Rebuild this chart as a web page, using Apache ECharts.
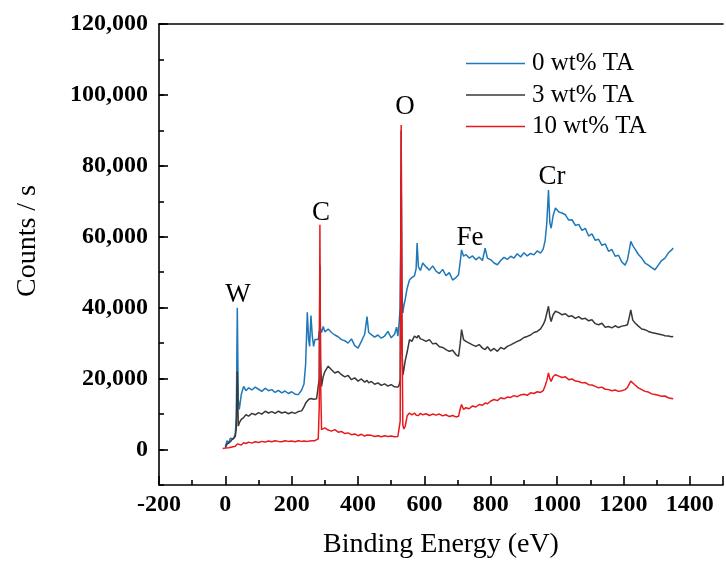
<!DOCTYPE html>
<html>
<head>
<meta charset="utf-8">
<script src="https://cdn.jsdelivr.net/npm/echarts@6/dist/echarts.min.js"></script>
<style>
html,body{margin:0;padding:0;background:#fff;}
#chart{width:726px;height:564px;}
</style>
</head>
<body>
<div id="chart"></div>
<script>
// Series names
const seriesNames = ['0 wt% TA', '3 wt% TA', '10 wt% TA'];
// Y tick labels (-10,000 .. 120,000 every 10,000; only every other one is labelled)
const yTickLabels = ['', '0', '', '20,000', '', '40,000', '', '60,000', '', '80,000', '', '100,000', '', '120,000'];
// Peak annotations
const peakLabels = ['W', 'C', 'O', 'Fe', 'Cr'];

// 0 wt% TA  [binding energy eV, counts/s]
const blue0 = [
[0,800],[5,2500],[10,1800],[15,3200],[20,3600],[25,3000],[30,4600],[33,9000],[36,40000],[39,14000],[42,11300],[48,15500],[55,17800],
[62,16600],[70,17400],[80,16800],[90,17600],[100,17000],[110,16400],[120,17300],[130,16600],[140,16900],[150,16100],[160,16700],
[170,16000],[180,16500],[190,15800],[200,16300],[210,15600],[220,15500],[230,16800],[237,18500],[242,24000],[247,38700],[251,31000],
[254,29100],[258,37800],[262,32000],[266,29100],[270,31000],[275,31500],[280,31000],[283,33500],[285,32000],[287,34000],[290,33000],
[295,34700],[300,33200],[310,34000],[320,33000],[330,32300],[340,31800],[350,31000],[360,30700],[370,30000],[380,31200],[390,29300],
[400,28600],[410,30500],[420,32500],[427,37500],[432,33000],[440,32400],[450,31700],[460,32300],[470,31400],[480,32000],[490,33300],
[500,31500],[510,32500],[516,34500],[520,32000],[524,36000],[527,40000],[530,77000],[532,45000],[535,38500],[538,40500],[542,42300],
[548,45500],[555,47800],[562,48500],[570,49000],[575,51000],[578,58200],[582,51500],[588,50500],[595,52600],[605,51500],[615,50600],
[625,51800],[635,50300],[645,49600],[655,50800],[665,49000],[675,49900],[685,47800],[695,48500],[703,49300],[708,53000],[712,56300],
[718,54500],[725,55000],[735,54000],[745,54600],[755,53500],[765,54300],[775,53300],[783,56800],[790,54000],[800,53500],[810,52600],
[820,52100],[830,53300],[840,54200],[850,53600],[860,54500],[870,54000],[880,55200],[890,54300],[900,55500],[910,54600],[920,55300],
[930,54900],[940,56000],[950,55400],[958,56500],[964,59000],[969,64000],[974,73200],[978,64000],[982,62400],[988,66000],[995,68100],
[1005,67000],[1015,66700],[1025,66200],[1035,64700],[1045,64800],[1055,63200],[1065,63500],[1075,61800],[1085,62400],[1095,60200],
[1105,60800],[1115,59000],[1125,59300],[1135,57600],[1145,58000],[1155,55900],[1165,56400],[1175,54500],[1185,54800],[1195,52900],
[1205,52000],[1212,53500],[1218,56500],[1222,58700],[1228,57500],[1235,56500],[1245,55000],[1255,54000],[1265,52600],[1275,52000],
[1285,51300],[1295,50700],[1305,52000],[1315,53300],[1325,54000],[1335,55400],[1345,56300],[1350,56800]
];

// 3 wt% TA
const black3 = [
[0,500],[5,1500],[10,1200],[15,2200],[20,2800],[25,2400],[30,3700],[33,6000],[36,22000],[39,6600],[42,7500],[48,8500],[55,9000],
[62,9800],[70,9400],[80,10200],[90,9800],[100,10400],[110,10000],[120,10800],[130,10300],[140,10700],[150,10200],[160,10800],
[170,10300],[180,10600],[190,10100],[200,10500],[210,10200],[220,10700],[230,10900],[237,12000],[242,13100],[247,12800],[251,14100],
[254,13600],[258,14400],[262,14000],[266,14200],[270,14600],[275,14300],[280,14800],[283,20000],[285,52000],[287,25000],[290,17800],
[295,20600],[300,22000],[310,23500],[320,22500],[330,21600],[340,22000],[350,21100],[360,20500],[370,20900],[380,19700],[390,20200],
[400,19300],[410,19900],[420,19000],[427,19500],[432,18800],[440,19200],[450,18400],[460,18800],[470,18100],[480,18500],[490,17900],
[500,18300],[510,17700],[516,18000],[520,17600],[524,18200],[527,19700],[530,90000],[532,30000],[535,21000],[538,22500],[542,25000],
[548,27500],[555,31000],[562,30500],[570,32000],[575,32400],[578,31500],[582,32200],[588,31200],[595,31000],[605,30500],[615,31000],
[625,29800],[635,30000],[645,29000],[655,28800],[665,28200],[675,27700],[685,28000],[695,26800],[703,26300],[708,30000],[712,33800],
[718,31000],[725,30500],[735,30000],[745,29500],[755,29100],[765,29600],[775,28600],[783,28200],[790,29000],[800,27800],[810,28500],
[820,27700],[830,28800],[840,28300],[850,29100],[860,29500],[870,30000],[880,30500],[890,30900],[900,31600],[910,31900],[920,32300],
[930,33000],[940,33300],[950,34000],[958,35200],[964,36500],[969,38500],[974,40400],[978,37500],[982,36100],[988,38000],[995,39000],
[1005,38600],[1015,38000],[1025,38300],[1035,37500],[1045,37700],[1055,37000],[1065,37500],[1075,36800],[1085,37000],[1095,36300],
[1105,36600],[1115,35500],[1125,35200],[1135,35600],[1145,34500],[1155,34700],[1165,34300],[1175,34900],[1185,34400],[1195,34800],
[1205,35000],[1212,35200],[1218,37500],[1222,39400],[1228,36500],[1235,35700],[1245,34800],[1255,34000],[1265,33800],[1275,33300],
[1285,33000],[1295,32800],[1305,32600],[1315,32400],[1325,32100],[1335,32000],[1345,31800],[1350,31900]
];

// 10 wt% TA
const red10 = [
[-8,300],[0,400],[5,600],[10,500],[15,800],[20,700],[25,1000],[30,900],[33,1300],[36,1600],[39,1200],[42,1500],[48,1300],[55,1900],
[62,1700],[70,2100],[80,1800],[90,2200],[100,2000],[110,2300],[120,2100],[130,2400],[140,2200],[150,2500],[160,2300],[170,2200],
[180,2500],[190,2300],[200,2400],[210,2200],[220,2500],[230,2300],[237,2400],[242,2600],[247,2300],[251,2500],[254,2400],[258,2600],
[262,2500],[266,2700],[270,2500],[275,2700],[280,3000],[283,12000],[285,63400],[287,20000],[290,5600],[295,5200],[300,6100],
[310,5500],[320,5200],[330,5600],[340,4900],[350,5100],[360,4500],[370,4700],[380,4200],[390,4400],[400,3900],[410,4300],[420,3800],
[427,4100],[432,3700],[440,4000],[450,3700],[460,3900],[470,3600],[480,3900],[490,3700],[500,3800],[510,3600],[516,3900],[520,3700],
[524,3800],[527,8000],[530,91500],[532,40000],[535,7000],[538,5800],[542,6500],[548,9500],[555,10300],[562,9800],[570,10300],
[575,9700],[578,10100],[582,9600],[588,10200],[595,9800],[605,10100],[615,9600],[625,10000],[635,9700],[645,10000],[655,9500],
[665,9800],[675,9300],[685,9600],[695,9200],[703,9400],[708,11500],[712,12700],[718,11300],[725,11800],[735,11500],[745,12300],
[755,12000],[765,12700],[775,12500],[783,13100],[790,12900],[800,13700],[810,14100],[820,13800],[830,14600],[840,14300],[850,14800],
[860,14700],[870,15200],[880,14900],[890,15400],[900,15600],[910,15300],[920,16000],[930,15800],[940,16300],[950,16100],[958,16600],
[964,18000],[969,19500],[974,21600],[978,20000],[982,19200],[988,20600],[995,21100],[1005,20700],[1015,20300],[1025,20500],
[1035,19700],[1045,19900],[1055,19300],[1065,19200],[1075,18800],[1085,18900],[1095,18300],[1105,18200],[1115,17800],[1125,17400],
[1135,17600],[1145,17000],[1155,16900],[1165,16600],[1175,16800],[1185,16400],[1195,16600],[1205,16900],[1212,17500],[1218,18600],
[1222,19300],[1228,19500],[1235,18200],[1245,17400],[1255,16900],[1265,16400],[1275,16200],[1285,15700],[1295,15500],[1305,15300],
[1315,15000],[1325,15100],[1335,14600],[1345,14400],[1350,14300]
];

const FONT = '"Liberation Serif", "Times New Roman", serif';
const COLORS = ['#1f78b8', '#383838', '#e8191c'];
const chart = echarts.init(document.getElementById('chart'), null, {renderer: 'canvas'});

const axisLineStyle = {color: '#000', width: 1.6};

chart.setOption({
  animation: false,
  backgroundColor: '#fff',
  grid: {left: 159, top: 24, width: 573, height: 462, containLabel: false},
  legend: {
    data: seriesNames,
    orient: 'vertical',
    left: 466,
    top: 48,
    padding: 0,
    icon: 'rect',
    itemWidth: 59,
    itemHeight: 1.6,
    itemGap: 0.5,
    textStyle: {fontFamily: FONT, fontSize: 25, color: '#000', lineHeight: 31, padding: [0, 0, 0, 2]}
  },
  xAxis: [
    {
      type: 'value',
      min: -200, max: 1500, interval: 200,
      axisLine: {show: true, onZero: false, lineStyle: axisLineStyle},
      axisTick: {show: true, inside: true, length: 9, lineStyle: {color: '#000', width: 1.6}},
      minorTick: {show: true, splitNumber: 2, length: 5, lineStyle: {color: '#000', width: 1.6}},
      splitLine: {show: false},
      axisLabel: {
        margin: 8,
        fontFamily: FONT, fontSize: 24, fontWeight: 'bold', color: '#000',
        formatter: function (v) { return v > 1400 ? '' : String(v); }
      },
      name: 'Binding Energy (eV)',
      nameLocation: 'middle',
      nameGap: 46,
      nameTextStyle: {fontFamily: FONT, fontSize: 28, color: '#000'}
    },
    {
      type: 'value',
      position: 'top',
      min: -200, max: 1500,
      axisLine: {show: true, onZero: false, lineStyle: axisLineStyle},
      axisTick: {show: false},
      axisLabel: {show: false},
      splitLine: {show: false}
    }
  ],
  yAxis: [
    {
      type: 'value',
      position: 'left',
      min: -10000, max: 120000, interval: 10000,
      axisLine: {show: true, onZero: false, lineStyle: axisLineStyle},
      axisTick: {show: true, inside: true, length: 5, lineStyle: {color: '#000', width: 1.6}},
      axisLabel: {show: false},
      splitLine: {show: false}
    },
    {
      type: 'category',
      position: 'left',
      boundaryGap: false,
      data: yTickLabels,
      axisLine: {show: false, onZero: false},
      axisTick: {show: true, inside: true, length: 9, lineStyle: {color: '#000', width: 1.6},
        interval: function (i) { return i % 2 === 1; }},
      axisLabel: {interval: 0, margin: 11, fontFamily: FONT, fontSize: 24, fontWeight: 'bold', color: '#000'},
      splitLine: {show: false}
    }
  ],
  graphic: [
    {type: 'text', x: 28, y: 241, rotation: Math.PI / 2,
      style: {text: 'Counts / s', font: '28px ' + FONT, fill: '#000', align: 'center', verticalAlign: 'middle'}},
    {type: 'text', x: 238, y: 295, style: {text: peakLabels[0], font: '27px ' + FONT, fill: '#000', align: 'center', verticalAlign: 'middle'}},
    {type: 'text', x: 321, y: 213, style: {text: peakLabels[1], font: '27px ' + FONT, fill: '#000', align: 'center', verticalAlign: 'middle'}},
    {type: 'text', x: 405, y: 107, style: {text: peakLabels[2], font: '27px ' + FONT, fill: '#000', align: 'center', verticalAlign: 'middle'}},
    {type: 'text', x: 470, y: 238, style: {text: peakLabels[3], font: '27px ' + FONT, fill: '#000', align: 'center', verticalAlign: 'middle'}},
    {type: 'text', x: 552, y: 177, style: {text: peakLabels[4], font: '27px ' + FONT, fill: '#000', align: 'center', verticalAlign: 'middle'}}
  ],
  series: [
    {name: seriesNames[0], type: 'line', data: blue0, xAxisIndex: 0, yAxisIndex: 0, symbol: 'none', showSymbol: false,
      lineStyle: {color: COLORS[0], width: 1.5}, itemStyle: {color: COLORS[0]}},
    {name: seriesNames[1], type: 'line', data: black3, xAxisIndex: 0, yAxisIndex: 0, symbol: 'none', showSymbol: false,
      lineStyle: {color: COLORS[1], width: 1.5}, itemStyle: {color: COLORS[1]}},
    {name: seriesNames[2], type: 'line', data: red10, xAxisIndex: 0, yAxisIndex: 0, symbol: 'none', showSymbol: false,
      lineStyle: {color: COLORS[2], width: 1.5}, itemStyle: {color: COLORS[2]}}
  ]
});
</script>
</body>
</html>
